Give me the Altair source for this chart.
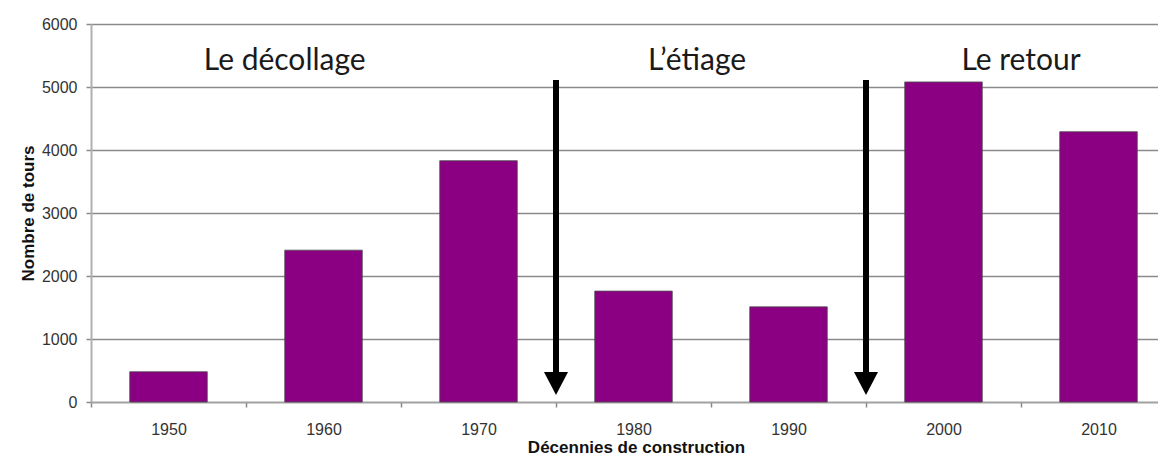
import altair as alt
import pandas as pd

# --- data ---
decades = ["1950", "1960", "1970", "1980", "1990", "2000", "2010"]
tours = [480, 2410, 3830, 1760, 1510, 5080, 4290]

phase_labels = ["Le décollage", "L’étiage", "Le retour"]
phase_pos = [1.25, 3.91, 6.0]          # in decade-band units (0..7)
phase_y = [5270, 5270, 5270]

arrow_pos = [3, 5]                      # boundaries between decade bands
arrow_top = [5110, 5110]
arrow_end = [450, 450]
arrow_head = [294, 294]

y_ticks = [0, 1000, 2000, 3000, 4000, 5000, 6000]

bars_df = pd.DataFrame({"decade": decades, "tours": tours})
labels_df = pd.DataFrame({"label": phase_labels, "pos": phase_pos, "y": phase_y})
arrows_df = pd.DataFrame({"pos": arrow_pos, "top": arrow_top, "end": arrow_end, "head": arrow_head})

RANGE = [0, 1085]
yscale = alt.Scale(domain=[0, 6000], nice=False)
xq = alt.X("pos:Q", scale=alt.Scale(domain=[0, 7], range=RANGE, nice=False, zero=False), axis=None)


def yaxis():
    return alt.Axis(title="Nombre de tours", values=y_ticks, format="d", grid=True,
                    gridColor="#8a8a8a", gridWidth=1.5,
                    domainColor="#b0b0b0", domainWidth=2,
                    tickColor="#8a8a8a", tickSize=5, tickWidth=1.5,
                    labelFont="Liberation Sans", labelFontSize=16, labelColor="#333333",
                    labelPadding=9,
                    titleFont="Liberation Sans", titleFontSize=17, titleFontWeight="bold",
                    titleColor="#111111", titleX=-58, titleY=189, titleAngle=270,
                    titleAlign="center", titleBaseline="alphabetic")


bars = alt.Chart(bars_df).mark_bar(
    color="#8B0082", stroke="#4a4a4a", strokeWidth=0.8, width={"band": 0.5}
).encode(
    x=alt.X("decade:N", sort=decades,
            scale=alt.Scale(range=RANGE, paddingInner=0, paddingOuter=0),
            axis=alt.Axis(title="Décennies de construction", labelAngle=0, tickBand="extent",
                          grid=False, domainColor="#a0a0a0", domainWidth=1.5,
                          tickColor="#888888", tickSize=5, tickWidth=1.5,
                          labelFont="Liberation Sans", labelFontSize=16, labelColor="#333333",
                          labelPadding=14,
                          titleFont="Liberation Sans", titleFontSize=17, titleFontWeight="bold",
                          titleColor="#111111", titleX=545, titleY=50, titleAlign="center",
                          titleBaseline="alphabetic")),
    y=alt.Y("tours:Q", scale=yscale, axis=yaxis()),
)

rules = alt.Chart(arrows_df).mark_rule(color="black", strokeWidth=6).encode(
    x=xq,
    y=alt.Y("top:Q", scale=yscale, axis=yaxis()),
    y2="end:Q",
)

heads = alt.Chart(arrows_df).mark_point(
    shape="M-1,-0.95L1,-0.95L0,0.95Z", size=576, filled=True, color="black", opacity=1
).encode(
    x=xq,
    y=alt.Y("head:Q", scale=yscale, axis=yaxis()),
)

texts = alt.Chart(labels_df).mark_text(
    font="Lato", fontSize=30, color="#1a1a1a", align="center", baseline="alphabetic"
).encode(
    x=xq,
    y=alt.Y("y:Q", scale=yscale, axis=yaxis()),
    text="label:N",
)

chart = alt.layer(bars, rules, heads, texts).resolve_scale(x="independent").properties(
    width=1067, height=378,
    autosize=alt.AutoSizeParams(type="none"),
    padding={"left": 83, "top": 16, "right": 0, "bottom": 55},
).configure_view(stroke=None)

chart.save("out.html", embed_options={"renderer": "svg", "actions": False})
